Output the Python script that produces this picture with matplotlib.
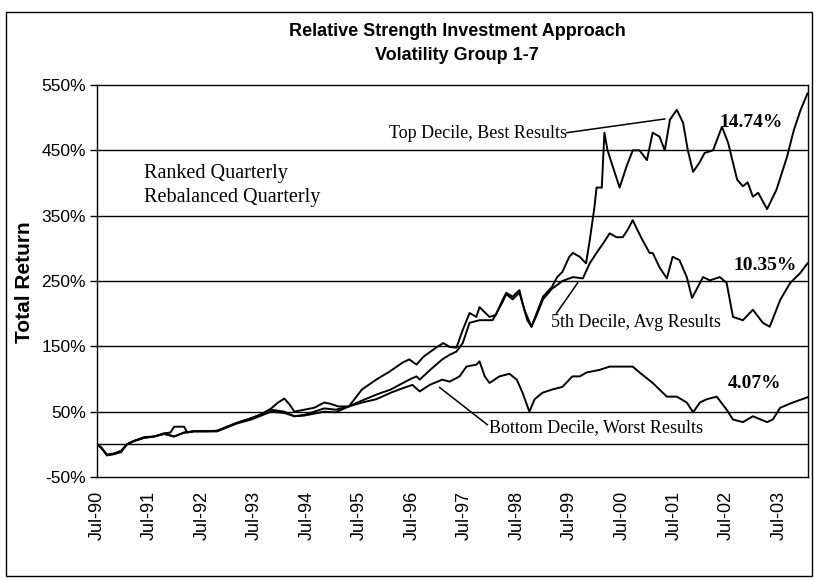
import matplotlib
matplotlib.use('Agg')
import matplotlib.pyplot as plt
from matplotlib.patches import Rectangle

plt.rcParams['font.family'] = 'Liberation Sans'

# decimal years, values in % total return
top_x = [1990.50, 1990.58, 1990.69, 1990.82, 1990.96, 1991.07, 1991.20, 1991.40, 1991.59, 1991.78,
         1991.90, 1991.97, 1992.16, 1992.22, 1992.35, 1992.60, 1992.79, 1992.98, 1993.17, 1993.44,
         1993.63, 1993.82, 1993.95, 1994.07, 1994.17, 1994.26, 1994.45, 1994.64, 1994.83, 1994.95,
         1995.10, 1995.30, 1995.55, 1995.82, 1996.07, 1996.32, 1996.45, 1996.59, 1996.72, 1996.98,
         1997.10, 1997.22, 1997.35, 1997.47, 1997.60, 1997.73, 1997.79, 1997.98, 1998.10, 1998.23,
         1998.30, 1998.42, 1998.55, 1998.61, 1998.70, 1998.78, 1998.88, 1999.00, 1999.17, 1999.27,
         1999.37, 1999.50, 1999.57, 1999.70, 1999.82, 1999.89, 1999.98, 2000.02, 2000.12, 2000.17,
         2000.23, 2000.33, 2000.46, 2000.59, 2000.71, 2000.84, 2000.98, 2001.09, 2001.22, 2001.32,
         2001.42, 2001.55, 2001.67, 2001.76, 2001.86, 2001.98, 2002.08, 2002.24, 2002.41, 2002.53,
         2002.62, 2002.70, 2002.81, 2002.90, 2003.00, 2003.10, 2003.27, 2003.45, 2003.65, 2003.78,
         2003.91, 2004.04]
top_y = [0, -5, -17, -15, -12, 0, 5, 11, 12, 17,
         18, 27, 27, 18, 20, 20, 20, 27, 33, 40,
         46, 55, 64, 70, 61, 50, 53, 56, 64, 62,
         58, 58, 84, 99, 111, 125, 130, 122, 134, 149,
         155, 149, 148, 175, 201, 195, 210, 195, 198, 221,
         232, 226, 236, 216, 190, 180, 201, 226, 241, 256,
         264, 287, 293, 287, 277, 312, 363, 393, 393, 477,
         450, 425, 393, 425, 450, 450, 435, 477, 471, 450,
         497, 512, 492, 450, 417, 431, 446, 450, 486, 461,
         431, 405, 395, 401, 379, 385, 360, 390, 440, 481,
         512, 537]

mid_x = [1990.50, 1990.58, 1990.69, 1990.82, 1990.96, 1991.07, 1991.20, 1991.40, 1991.59, 1991.78,
         1991.97, 1992.16, 1992.35, 1992.60, 1992.79, 1992.98, 1993.17, 1993.44, 1993.63, 1993.82,
         1994.07, 1994.26, 1994.45, 1994.64, 1994.83, 1995.05, 1995.30, 1995.55, 1995.82, 1996.10,
         1996.45, 1996.59, 1996.65, 1996.85, 1997.08, 1997.22, 1997.35, 1997.47, 1997.60, 1997.79,
         1998.04, 1998.23, 1998.30, 1998.42, 1998.55, 1998.65, 1998.78, 1998.88, 1999.00, 1999.17,
         1999.37, 1999.57, 1999.76, 1999.89, 2000.02, 2000.15, 2000.27, 2000.40, 2000.52, 2000.61,
         2000.71, 2000.80, 2000.90, 2001.03, 2001.09, 2001.22, 2001.36, 2001.47, 2001.60, 2001.74,
         2001.84, 2002.05, 2002.18, 2002.37, 2002.50, 2002.62, 2002.81, 2003.00, 2003.19, 2003.32,
         2003.52, 2003.71, 2003.90, 2004.04]
mid_y = [0, -5, -16, -14, -10, 0, 5, 10, 12, 16,
         12, 18, 20, 20, 21, 27, 33, 40, 46, 53,
         50, 43, 45, 50, 55, 53, 58, 67, 76, 84,
         99, 104, 99, 114, 130, 137, 142, 155, 186, 190,
         190, 218, 230, 222, 232, 205, 180, 198, 222, 238,
         250, 256, 254, 277, 293, 308, 323, 317, 317, 328,
         343, 328, 312, 293, 293, 271, 254, 287, 282, 256,
         224, 256, 251, 256, 247, 195, 190, 206, 186, 180,
         221, 247, 262, 277]

bot_x = [1990.50, 1990.58, 1990.69, 1990.82, 1990.96, 1991.07, 1991.20, 1991.40, 1991.59, 1991.78,
         1991.97, 1992.16, 1992.35, 1992.60, 1992.79, 1992.98, 1993.17, 1993.44, 1993.63, 1993.82,
         1994.07, 1994.26, 1994.45, 1994.64, 1994.83, 1995.05, 1995.30, 1995.55, 1995.82, 1996.10,
         1996.26, 1996.51, 1996.65, 1996.84, 1997.08, 1997.22, 1997.41, 1997.54, 1997.73, 1997.79,
         1997.89, 1997.98, 1998.17, 1998.36, 1998.50, 1998.61, 1998.74, 1998.84, 1998.99, 1999.18,
         1999.37, 1999.56, 1999.70, 1999.83, 2000.08, 2000.27, 2000.60, 2000.71, 2000.84, 2001.09,
         2001.36, 2001.55, 2001.74, 2001.86, 2001.99, 2002.12, 2002.31, 2002.50, 2002.62, 2002.81,
         2003.00, 2003.27, 2003.38, 2003.52, 2003.76, 2004.04]
bot_y = [0, -5, -16, -15, -10, 0, 5, 10, 12, 16,
         12, 18, 20, 20, 20, 26, 32, 38, 44, 50,
         48, 43, 44, 47, 50, 49, 58, 64, 69, 79,
         84, 91, 81, 91, 99, 96, 104, 119, 122, 127,
         104, 94, 104, 108, 99, 79, 50, 69, 79, 84,
         88, 104, 104, 110, 114, 119, 119, 119, 110, 94,
         73, 73, 64, 49, 64, 69, 73, 53, 38, 34,
         43, 34, 38, 56, 64, 72]

year_ticks = [1990.5 + i for i in range(14)]
year_labels = ['Jul-90', 'Jul-91', 'Jul-92', 'Jul-93', 'Jul-94', 'Jul-95', 'Jul-96',
               'Jul-97', 'Jul-98', 'Jul-99', 'Jul-00', 'Jul-01', 'Jul-02', 'Jul-03']
pct_ticks = [-50, 50, 150, 250, 350, 450, 550]
grid_levels = [0, 50, 150, 250, 350, 450]

W, H = 814, 580
fig = plt.figure(figsize=(W / 100, H / 100), dpi=100)
ax = fig.add_axes([97 / W, 1 - 477 / H, 711 / W, 392 / H])

for g in grid_levels:
    ax.axhline(g, color='black', lw=1.0, zorder=1)

for xs, ys in [(top_x, top_y), (mid_x, mid_y), (bot_x, bot_y)]:
    ax.plot(xs, ys, color='black', lw=1.4, zorder=3)

ax.set_xlim(1990.5, 2004.05)
ax.set_ylim(-50, 550)
ax.set_yticks(pct_ticks)
ax.set_yticklabels([f'{v}%' for v in pct_ticks], fontsize=12.5)
ax.set_xticks(year_ticks)
ax.set_xticklabels(year_labels, rotation=90, fontsize=13)
ax.tick_params(axis='x', length=0, pad=10)
ax.tick_params(axis='y', length=5, width=1, direction='out', pad=3)
for s in ax.spines.values():
    s.set_color('black')
    s.set_linewidth(1.0)

serif = 'Liberation Serif'
ax.text(1991.40, 415, 'Ranked Quarterly', family=serif, fontsize=14.5, va='center')
ax.text(1991.40, 378, 'Rebalanced Quarterly', family=serif, fontsize=14.5, va='center')
ax.text(1996.07, 475, 'Top Decile, Best Results', family=serif, fontsize=13, va='center')
ax.plot([1999.45, 2001.32], [477, 498], color='black', lw=1.1)
ax.text(1999.15, 186, '5th Decile, Avg Results', family=serif, fontsize=13, va='center')
ax.plot([1999.26, 1999.66], [201, 247], color='black', lw=1.1)
ax.text(1997.98, 26, 'Bottom Decile, Worst Results', family=serif, fontsize=13, va='center')
ax.plot([1997.03, 1997.94], [87, 30], color='black', lw=1.1)
ax.text(2002.37, 492, '14.74%', family=serif, fontsize=14, weight='bold', va='center')
ax.text(2002.62, 273, '10.35%', family=serif, fontsize=14, weight='bold', va='center')
ax.text(2002.52, 93, '4.07%', family=serif, fontsize=14, weight='bold', va='center')

fig.text(457 / W, 1 - 31 / H, 'Relative Strength Investment Approach', ha='center', va='center',
         fontsize=13, weight='bold')
fig.text(457 / W, 1 - 56 / H, 'Volatility Group 1-7', ha='center', va='center',
         fontsize=13, weight='bold')
fig.text(25 / W, 1 - 282 / H, 'Total Return', rotation=90, ha='center', va='center',
         fontsize=15, weight='bold')

fig.patches.append(Rectangle((6 / W, 4 / H), 806 / W, 564 / H, transform=fig.transFigure,
                             fill=False, edgecolor='black', lw=1.0))

fig.savefig('out.png', dpi=100)
